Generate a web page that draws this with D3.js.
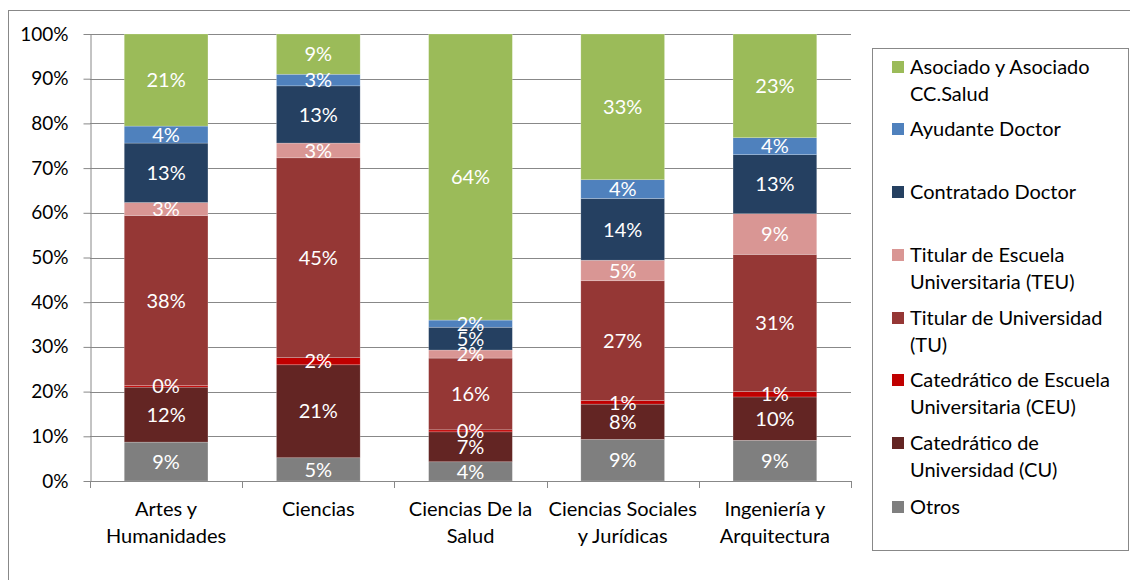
<!DOCTYPE html>
<html><head><meta charset="utf-8">
<script src="https://cdn.jsdelivr.net/npm/d3@7/dist/d3.min.js"></script>
<style>body{margin:0;background:#fff}svg{display:block}text{font-family:Lato,"Open Sans",sans-serif}</style>
</head><body><svg id="c" width="1130" height="580"></svg>
<script>
const categories = [["Artes y","Humanidades"],["Ciencias"],["Ciencias De la","Salud"],["Ciencias Sociales","y Jurídicas"],["Ingeniería y","Arquitectura"]];
// series from bottom to top, values in %
const seriesNames = ["Otros","Catedrático de Universidad (CU)","Catedrático de Escuela Universitaria (CEU)","Titular de Universidad (TU)","Titular de Escuela Universitaria (TEU)","Contratado Doctor","Ayudante Doctor","Asociado y Asociado CC.Salud"];
const otros      = [8.7, 5.2, 4.3, 9.3, 9.1];
const cu         = [12.3, 20.8, 6.7, 7.9, 9.7];
const ceu        = [0.4, 1.6, 0.45, 0.8, 1.2];
const tu         = [38.0, 44.7, 16.05, 26.8, 30.7];
const teu        = [2.9, 3.3, 1.8, 4.6, 9.1];
const contratado = [13.3, 12.8, 5.1, 13.8, 13.2];
const ayudante   = [3.8, 2.6, 1.6, 4.2, 3.8];
const asociado   = [20.6, 9.0, 64.0, 32.6, 23.2];
const yTicks = [0,10,20,30,40,50,60,70,80,90,100];
const colors = ["#7F7F7F","#632523","#C00000","#953735","#D99694","#254061","#4F81BD","#9BBB59"];
const legendLines = [
  ["Asociado y Asociado","CC.Salud"],["Ayudante Doctor"],["Contratado Doctor"],
  ["Titular de Escuela","Universitaria (TEU)"],["Titular de Universidad","(TU)"],
  ["Catedrático de Escuela","Universitaria (CEU)"],["Catedrático de","Universidad (CU)"],["Otros"]];
const legendY = [67,129,192,255,318,380,443,507];

const allSeries = [otros,cu,ceu,tu,teu,contratado,ayudante,asociado];
const rows = categories.map((c,i)=>{const r={cat:i}; allSeries.forEach((s,k)=>r["s"+k]=s[i]); return r;});
const keys = allSeries.map((s,k)=>"s"+k);
const stack = d3.stack().keys(keys)(rows);

const svg = d3.select("#c");
const L=90,R=851,T=34,B=481;
const x = d3.scaleBand().domain(d3.range(categories.length)).range([L,R]).paddingInner(0.45).paddingOuter(0.225);
const y = d3.scaleLinear().domain([0,100]).range([B,T]);
const grid="#888888";
const FS=20;

svg.append("rect").attr("x",8.5).attr("y",10.5).attr("width",1140).attr("height",600).attr("fill","none").attr("stroke",grid);

// gridlines
svg.append("g").selectAll("line").data(yTicks).join("line")
  .attr("x1",L).attr("x2",R).attr("y1",d=>Math.round(y(d))+0.5).attr("y2",d=>Math.round(y(d))+0.5)
  .attr("stroke",grid).attr("stroke-width",1);

// y axis
const ya = svg.append("g").attr("transform",`translate(${L+0.5},0)`)
  .call(d3.axisLeft(y).tickValues(yTicks).tickFormat(d=>d+"%").tickSize(7).tickSizeOuter(0));
ya.select(".domain").attr("stroke",grid);
ya.selectAll(".tick line").attr("stroke",grid);
ya.selectAll(".tick text").attr("font-size",19).attr("fill","#000").attr("x",-22).attr("font-family","Lato,sans-serif");

// bars
const g = svg.append("g");
stack.forEach((layer,k)=>{
  g.append("g").selectAll("rect").data(layer).join("rect")
    .attr("x",(d,i)=>x(i)).attr("width",x.bandwidth())
    .attr("y",d=>y(d[1])).attr("height",d=>y(d[0])-y(d[1]))
    .attr("fill",colors[k]).attr("stroke","rgba(255,255,255,0.35)").attr("stroke-width",0.6);
});
// labels
stack.forEach((layer,k)=>{
  g.append("g").selectAll("text").data(layer).join("text")
    .attr("x",(d,i)=>x(i)+x.bandwidth()/2)
    .attr("y",d=>(y(d[0])+y(d[1]))/2)
    .attr("dy","0.36em").attr("text-anchor","middle").attr("fill","#fff").attr("font-size",FS)
    .text(d=>Math.round(d[1]-d[0])+"%");
});

// x axis
const xa = svg.append("g");
xa.append("line").attr("x1",L).attr("x2",R).attr("y1",B+0.5).attr("y2",B+0.5).attr("stroke",grid);
const bounds = d3.range(categories.length+1).map(i=>L+i*(R-L)/categories.length);
xa.selectAll(".tk").data(bounds).join("line").attr("class","tk")
  .attr("x1",d=>Math.round(d)+0.5).attr("x2",d=>Math.round(d)+0.5).attr("y1",B).attr("y2",B+7).attr("stroke",grid);
categories.forEach((c,i)=>{
  const t = xa.append("text").attr("text-anchor","middle").attr("font-size",FS).attr("fill","#000");
  c.forEach((line,j)=>t.append("tspan").attr("x",x(i)+x.bandwidth()/2).attr("y",516+j*27).text(line));
});

// legend
const lg = svg.append("g");
lg.append("rect").attr("x",872.5).attr("y",48.5).attr("width",256).attr("height",502).attr("fill","#fff").attr("stroke",grid);
const legOrder = [7,6,5,4,3,2,1,0];
legOrder.forEach((k,i)=>{
  lg.append("rect").attr("x",892).attr("y",legendY[i]-6).attr("width",12).attr("height",12).attr("fill",colors[k]);
  const t = lg.append("text").attr("font-size",FS).attr("fill","#000");
  legendLines[i].forEach((line,j)=>t.append("tspan").attr("x",910).attr("y",legendY[i]+7+j*27).text(line));
});
</script></body></html>
